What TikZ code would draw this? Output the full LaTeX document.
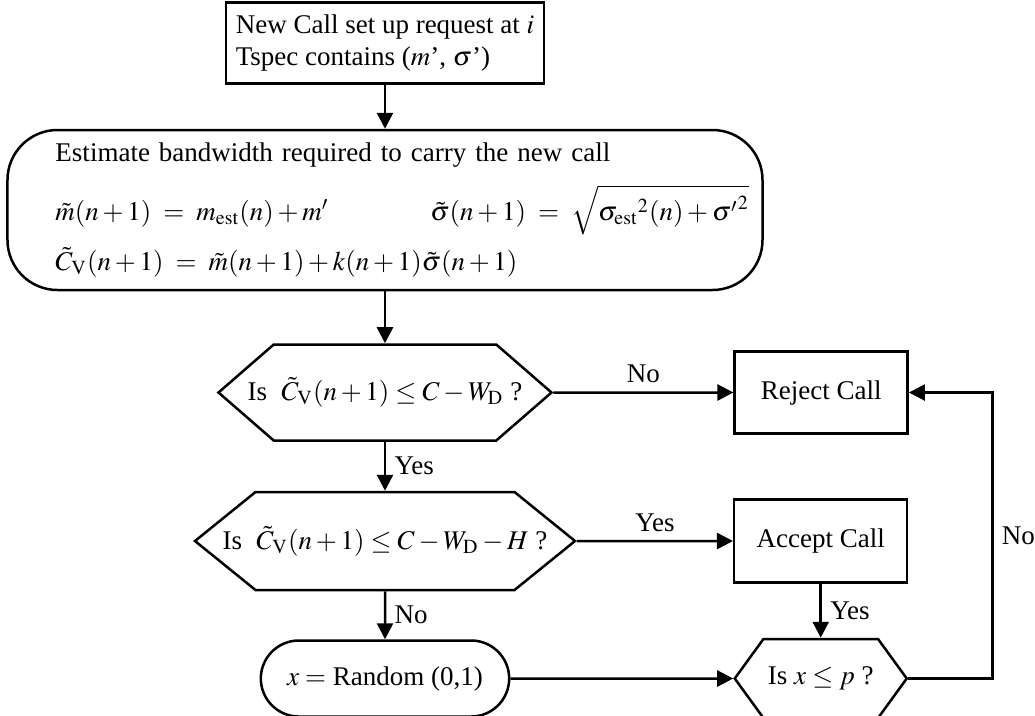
\documentclass[tikz,border=0pt]{standalone}
\usepackage{mathptmx}
\usepackage{fontspec}
\setmainfont{Liberation Serif}
\usetikzlibrary{shapes.misc}
\usetikzlibrary{shapes.symbols}
\usetikzlibrary{positioning}
\usetikzlibrary{arrows.meta}

\begin{document}
\begin{tikzpicture}[->,>={Triangle[length=6.4pt,width=6.4pt]},auto,x=0.4pt,y=-0.4pt,
	line width=1pt,font=\fontsize{10.8}{13}\selectfont,
	box node/.style={rectangle,draw,inner sep=4pt},
	test node/.style={signal,signal to=west and east,draw,inner sep=0pt},
	round node/.style={rounded rectangle,draw}]

	\useasboundingbox (0,0) rectangle (1035,715);

	\node[box node, rounded corners=20pt, align=left, inner xsep=19.2pt,
		text width=263.6pt, minimum height=64pt] (est) at (385,210)
		{Estimate bandwidth required to carry the new call\\[6pt]
		\mbox{\makebox[150pt][l]{$\tilde{m}(n+1)\;=\;m_{\mathrm{est}}(n)+m'$}%
		$\tilde{\sigma}(n+1)\;=\;\sqrt{{\sigma_{\mathrm{est}}}^{2}(n)+{\sigma'}^{2}}$}\\[4pt]
		\mbox{$\tilde{C}_{\mathrm{V}}(n+1)\;=\;\tilde{m}(n+1)+k(n+1)\tilde{\sigma}(n+1)$}};
	\node[box node, align=left, minimum height=32.4pt] (req) [above=17.6pt of est]
		{New Call set up request at $i$\\Tspec contains ($m$', $\sigma$')};
	\node[test node, minimum width=133.2pt, minimum height=38.4pt, signal pointer angle=82] (cap) [below=20.8pt of est]
		{\makebox[0pt]{Is\; $\tilde{C}_{\mathrm{V}}(n+1)\le C-W_{\mathrm{D}}$ ?}};
	\node[test node, minimum width=152pt, minimum height=39.2pt, signal pointer angle=78] (capH) [below=19.6pt of cap]
		{\makebox[0pt]{Is\; $\tilde{C}_{\mathrm{V}}(n+1)\le C-W_{\mathrm{D}}-H$ ?}};
	\node[round node, minimum width=106pt, minimum height=30.4pt] (rnd) [below=19.2pt of capH]
		{$x=$ Random (0,1)};
	\node[box node, minimum width=69.2pt, minimum height=32.8pt] (rej) [right=72pt of cap] {Reject Call};
	\node[box node, minimum width=69.2pt, minimum height=33.2pt] (acc) [right=62.4pt of capH] {Accept Call};
	\node[test node, minimum width=68.8pt, minimum height=31.6pt, signal pointer angle=108] (isp) at (acc |- rnd)
		{\makebox[0pt]{Is $x\le p$ ?}};

	\path
	(req) edge (est)
	(est) edge (cap)
	(cap) edge node {No} (rej)
	(cap) edge node {Yes} (capH)
	(capH) edge node {Yes} (acc)
	(capH) edge node {No} (rnd)
	(acc) edge node {Yes} (isp)
	(rnd) edge (isp);
	\draw (isp.east) -- ++(84,0) |- node[pos=0.25,right] {No} (rej.east);
\end{tikzpicture}
\end{document}
